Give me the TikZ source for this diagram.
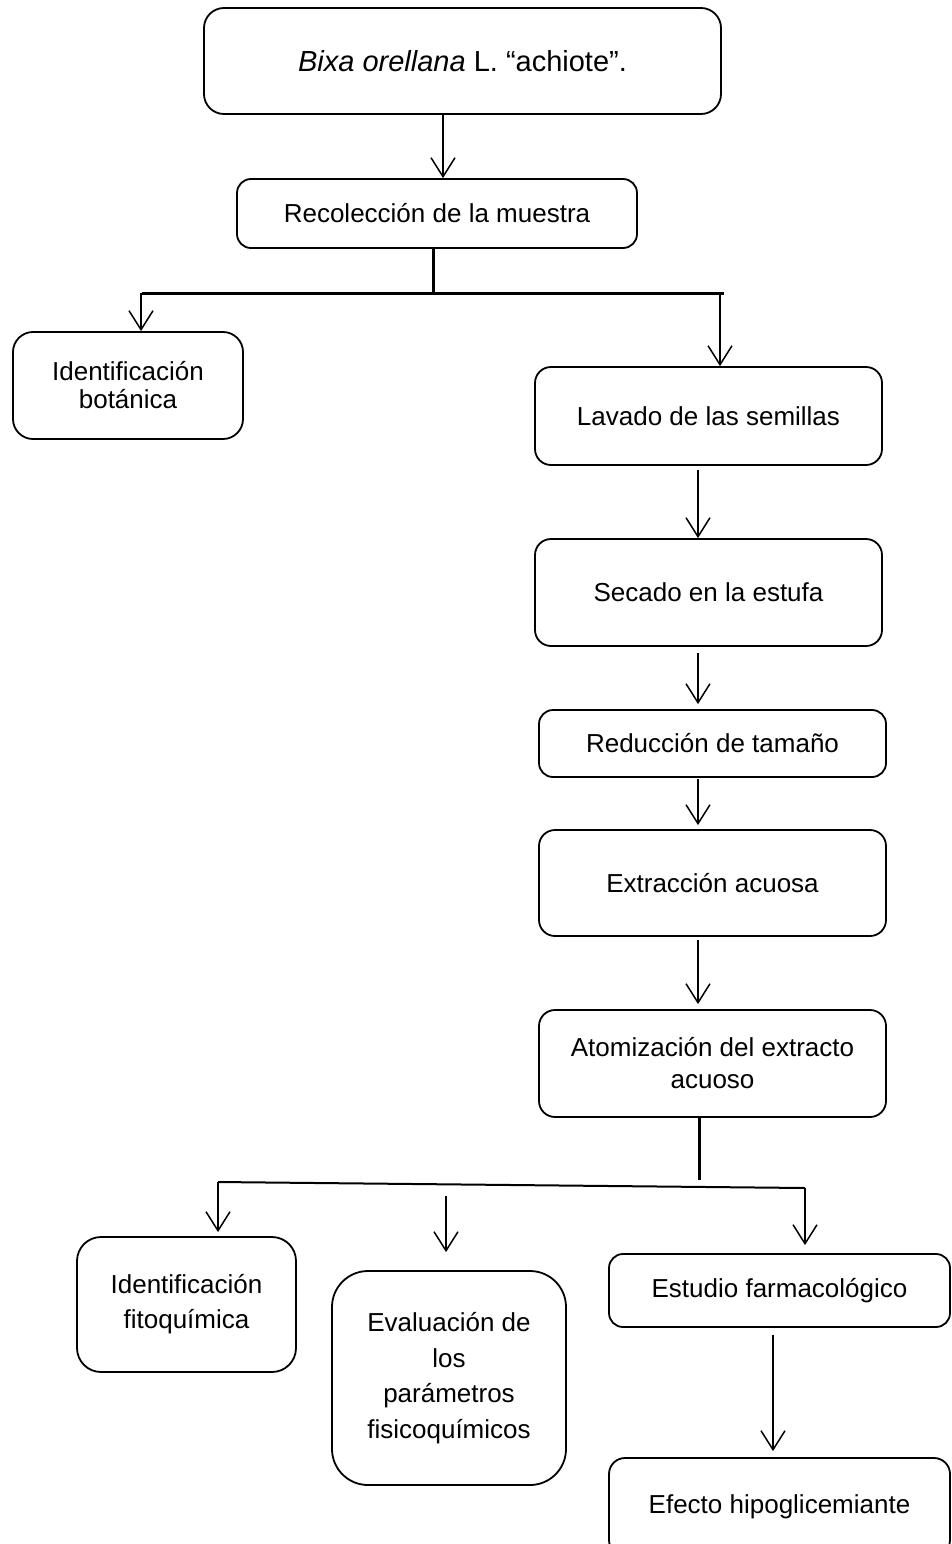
\documentclass[tikz,border=0pt]{standalone}
\usepackage{fontspec}
\setmainfont{Liberation Sans}
\usetikzlibrary{arrows.meta}
\tikzset{
  box/.style={draw, line width=1.8pt, rounded corners=16pt, align=center, inner sep=0pt,
    font=\fontsize{26}{32}\selectfont},
  arr/.style={line width=1.5pt, -{Straight Barb[length=19pt,width=24pt,line width=1.5pt]}},
  bar/.style={line width=3pt},
  branch/.style={line width=2pt},
}
\begin{document}
\begin{tikzpicture}[x=1pt,y=-1pt]
\useasboundingbox (0,0) rectangle (952,1544);
\clip (0,0) rectangle (952,1544);
\fill[white] (0,0) rectangle (952,1544);

% boxes
\node[box, rounded corners=20pt, minimum width=517pt, minimum height=106pt, font=\fontsize{29}{34}\selectfont] (bixa) at (462.5,61) {\textit{Bixa orellana} L. “achiote”.};
\node[box, rounded corners=14pt, minimum width=400pt, minimum height=69pt] (recol) at (437,213.5) {Recolección de la muestra};
\node[box, rounded corners=20pt, minimum width=230pt, minimum height=107pt, font=\fontsize{26}{28}\selectfont] (idbot) at (128,385.5) {Identificación\\botánica};
\node[box, minimum width=347pt, minimum height=98pt] (lavado) at (708.5,416) {Lavado de las semillas};
\node[box, minimum width=347pt, minimum height=107pt] (secado) at (708.5,592.5) {Secado en la estufa};
\node[box, rounded corners=14pt, minimum width=347pt, minimum height=67pt] (reduc) at (712.5,743.5) {Reducción de tamaño};
\node[box, minimum width=347pt, minimum height=106pt] (extrac) at (712.5,883) {Extracción acuosa};
\node[box, minimum width=347pt, minimum height=107pt] (atom) at (712.5,1063.5) {Atomización del extracto\\acuoso};
\node[box, rounded corners=24pt, minimum width=219pt, minimum height=135pt, font=\fontsize{26}{35}\selectfont] (idfito) at (186.5,1304.5) {Identificación\\fitoquímica};
\node[box, rounded corners=36pt, minimum width=234pt, minimum height=214pt, font=\fontsize{26}{35.5}\selectfont] (eval) at (449,1378) {Evaluación de\\los\\parámetros\\fisicoquímicos};
\node[box, rounded corners=14pt, minimum width=341pt, minimum height=73pt] (estudio) at (779.5,1290.5) {Estudio farmacológico};
\node[box, minimum width=341pt, minimum height=98pt] (efecto) at (779.5,1507) {Efecto hipoglicemiante};

% top connectors
\draw[arr] ([xshift=-19.5pt]bixa.south) -- ([xshift=6pt]recol.north);
\coordinate (j1) at (433,292);
\coordinate (jL) at (141,293);
\coordinate (jR) at (720,293);
\draw[bar] ([xshift=-4pt]recol.south) -- (j1);
\draw[bar] (142,293) -- (724,293);
\draw[arr] (jL) -- (jL |- idbot.north);
\draw[arr] (jR) -- (jR |- lavado.north);

% main column
\coordinate (a1) at (698,470);
\draw[arr] (a1) -- (a1 |- secado.north);
\coordinate (a2) at (698,653);
\draw[arr] (a2) -- ([yshift=5pt]a2 |- reduc.north);
\coordinate (a3) at (698,779);
\draw[arr] (a3) -- ([yshift=4pt]a3 |- extrac.north);
\coordinate (a4) at (698,940);
\draw[arr] (a4) -- ([yshift=5pt]a4 |- atom.north);

% bottom branching
\coordinate (j2) at (699,1180);
\draw[bar] ([xshift=-13.5pt]atom.south) -- (j2);
\coordinate (bL) at (218,1182);
\coordinate (bR) at (805,1188);
\draw[branch] (bL) -- (bR);
\draw[arr] (bL) -- ([yshift=4pt]bL |- idfito.north);
\coordinate (bM) at (446,1196);
\draw[arr] (bM) -- ([yshift=18pt]bM |- eval.north);
\draw[arr] (bR) -- ([yshift=8pt]bR |- estudio.north);
\coordinate (b4) at (773,1335);
\draw[arr] (b4) -- ([yshift=6pt]b4 |- efecto.north);
\end{tikzpicture}
\end{document}
